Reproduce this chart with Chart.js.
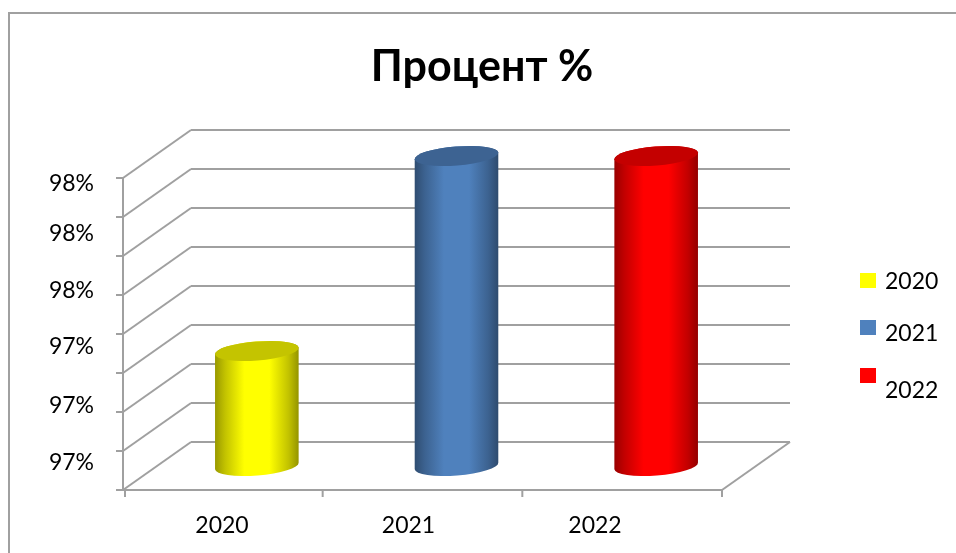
<!DOCTYPE html>
<html>
<head>
<meta charset="utf-8">
<title>Процент %</title>
<script src="https://cdn.jsdelivr.net/npm/chart.js@4"></script>
<style>
  html, body { margin: 0; padding: 0; background: #fff; }
  #wrap { position: relative; width: 956px; height: 553px; overflow: hidden; }
</style>
</head>
<body>
<div id="wrap"><canvas id="chart" width="956" height="553"></canvas></div>
<script>
const categories = ['2020', '2021', '2022'];
const percents = [97.19, 98.19, 98.19];
const yTickValues = [96.62, 96.91, 97.21, 97.5, 97.79, 98.05];
const gridValues = [96.6, 96.8, 97.0, 97.2, 97.4, 97.6, 97.8, 98.0, 98.2];
const barColors = ['#ffff00', '#4f81bd', '#ff0000'];

const FONT = 'Lato, "Open Sans", sans-serif';
const GRID = '#a0a0a0';
const DEPTH_X = 34;
const DEPTH_Y = 24;

function shade(hex, k) {
  const n = parseInt(hex.slice(1), 16);
  const r = Math.round((n >> 16 & 255) * k);
  const g = Math.round((n >> 8 & 255) * k);
  const b = Math.round((n & 255) * k);
  return `rgb(${r},${g},${b})`;
}

function line(ctx, x1, y1, x2, y2) {
  ctx.beginPath();
  ctx.moveTo(x1, y1);
  ctx.lineTo(x2, y2);
  ctx.stroke();
}

// walls, floor and axes of the fake 3D box
const boxPlugin = {
  id: 'box',
  beforeDraw(chart) {
    const { ctx } = chart;
    ctx.save();
    ctx.fillStyle = '#fff';
    ctx.fillRect(0, 0, chart.width, chart.height);
    ctx.strokeStyle = GRID;
    ctx.lineWidth = 2;
    ctx.beginPath();
    ctx.moveTo(9, chart.height);
    ctx.lineTo(9, 13);
    ctx.lineTo(chart.width, 13);
    ctx.stroke();
    ctx.restore();
  },
  beforeDatasetsDraw(chart) {
    const { ctx, chartArea: area, scales } = chart;
    const left = area.left - DEPTH_X;
    const right = area.right - DEPTH_X;
    const backLeft = area.left + DEPTH_X;
    const backRight = area.right + DEPTH_X;
    ctx.save();
    ctx.strokeStyle = GRID;
    ctx.lineWidth = 2;
    gridValues.forEach(v => {
      const y = scales.y.getPixelForValue(v);
      line(ctx, left - 7, y + DEPTH_Y, left, y + DEPTH_Y);
      line(ctx, left, y + DEPTH_Y, backLeft, y - DEPTH_Y);
      line(ctx, backLeft, y - DEPTH_Y, backRight, y - DEPTH_Y);
    });
    const floorY = area.bottom + DEPTH_Y;
    line(ctx, left, scales.y.getPixelForValue(98.2) + DEPTH_Y, left, floorY);
    line(ctx, left, floorY, right, floorY);
    line(ctx, right, floorY, backRight, area.bottom - DEPTH_Y);
    const step = (right - left) / categories.length;
    for (let i = 0; i <= categories.length; i++) {
      const x = left + step * i + (i === 0 ? 2 : 0);
      line(ctx, x, floorY, x, floorY + 7);
    }
    ctx.restore();
  },
  // category labels sit left of the cylinders in the original, and the legend is uneven
  afterDraw(chart) {
    const { ctx } = chart;
    const meta = chart.getDatasetMeta(0);
    ctx.save();
    ctx.fillStyle = '#000';
    ctx.font = '23px ' + FONT;
    ctx.textBaseline = 'middle';
    ctx.textAlign = 'center';
    categories.forEach((c, i) => ctx.fillText(c, 222 + i * 186.5, 526));
    ctx.textAlign = 'left';
    const boxY = [273, 320, 368];
    const textY = [282, 334, 391];
    categories.forEach((c, i) => {
      ctx.fillStyle = meta.data[i].options.backgroundColor;
      ctx.fillRect(860, boxY[i], 16, 15);
      ctx.fillStyle = '#000';
      ctx.fillText(c, 885, textY[i]);
    });
    ctx.restore();
  }
};

// bars are replaced by cylinders, using the geometry of the bar elements
const cylinderPlugin = {
  id: 'cylinder',
  beforeDatasetDraw(chart, args) {
    const { ctx } = chart;
    const tilt = -0.08;
    const ry = 9.5;
    args.meta.data.forEach(el => {
      const color = el.options.backgroundColor;
      const rx = el.width / 2;
      const tipX = rx * Math.cos(tilt);
      const grad = ctx.createLinearGradient(el.x - tipX, 0, el.x + tipX, 0);
      grad.addColorStop(0, shade(color, 0.6));
      grad.addColorStop(0.12, shade(color, 0.76));
      grad.addColorStop(0.35, shade(color, 1));
      grad.addColorStop(0.65, shade(color, 1));
      grad.addColorStop(0.88, shade(color, 0.76));
      grad.addColorStop(1, shade(color, 0.58));
      ctx.save();
      ctx.beginPath();
      ctx.ellipse(el.x, el.base, rx, ry, tilt, 0, Math.PI);
      ctx.ellipse(el.x, el.y, rx, ry, tilt, Math.PI, Math.PI * 2);
      ctx.closePath();
      ctx.fillStyle = grad;
      ctx.fill();
      ctx.beginPath();
      ctx.ellipse(el.x, el.y, rx, ry, tilt, 0, Math.PI * 2);
      ctx.fillStyle = shade(color, 0.77);
      ctx.fill();
      ctx.restore();
    });
    return false;
  }
};

new Chart(document.getElementById('chart'), {
  type: 'bar',
  data: {
    labels: categories,
    datasets: [{
      label: 'Процент %',
      data: percents,
      base: 96.6,
      backgroundColor: barColors,
      categoryPercentage: 1,
      barPercentage: 0.42
    }]
  },
  plugins: [boxPlugin, cylinderPlugin],
  options: {
    responsive: false,
    animation: false,
    layout: { padding: { left: 8 } },
    plugins: {
      legend: { display: false },
      tooltip: { enabled: false },
      title: {
        display: true,
        text: 'Процент %',
        color: '#000',
        font: { family: FONT, size: 43, weight: 'bold' },
        padding: { top: 41, bottom: 61.4 }
      }
    },
    scales: {
      x: {
        grid: { display: false },
        border: { display: false },
        ticks: { display: false },
        afterFit(s) { s.height = 87; }
      },
      y: {
        min: 96.6,
        max: 98.2,
        grid: { display: false, drawTicks: false },
        border: { display: false },
        afterBuildTicks(s) { s.ticks = yTickValues.map(value => ({ value })); },
        afterFit(s) { s.width = 149; },
        ticks: {
          autoSkip: false,
          padding: 63,
          color: '#000',
          font: { family: FONT, size: 23 },
          callback: v => v.toFixed(0) + '%'
        }
      },
      legendSpace: {
        type: 'linear',
        position: 'right',
        grid: { display: false },
        border: { display: false },
        ticks: { display: false },
        afterFit(s) { s.width = 200; }
      }
    }
  }
});
</script>
</body>
</html>
